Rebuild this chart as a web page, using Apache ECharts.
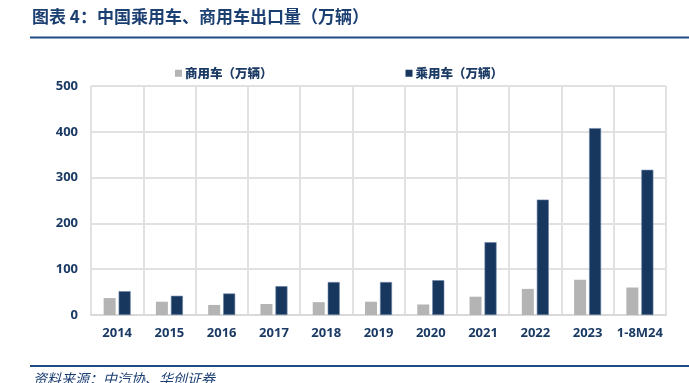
<!DOCTYPE html>
<html><head><meta charset="utf-8">
<script src="https://cdn.jsdelivr.net/npm/echarts@6/dist/echarts.min.js"></script>
<style>html,body{margin:0;padding:0;background:#fff}#c{width:689px;height:383px}</style>
</head><body><div id="c"></div>
<script>
var categories = ['2014','2015','2016','2017','2018','2019','2020','2021','2022','2023','1-8M24'];
var commercial = [37, 29, 22, 24, 28, 29, 23, 40, 57, 77, 60];
var passenger = [52, 42, 47, 63, 72, 72, 76, 159, 252, 408, 317];
var yTicks = {min: 0, max: 500, interval: 100};
var seriesNames = ['商用车（万辆）', '乘用车（万辆）'];
var titleText = '图表 4：中国乘用车、商用车出口量（万辆）';
var sourceText = '资料来源：中汽协、华创证券';

var navy = '#1b3a64';
var chart = echarts.init(document.getElementById('c'));
chart.setOption({
  animation: false,
  textStyle: {fontFamily: 'Noto Sans CJK SC, Noto Sans, sans-serif'},
  legend: {
    top: 62, left: 170, itemGap: 133, itemWidth: 7, itemHeight: 7,
    icon: 'rect',
    itemStyle: {borderWidth: 0},
    textStyle: {color: navy, fontSize: 12.5, fontWeight: 900, padding: [0,0,0,-2]},
    data: seriesNames
  },
  grid: {left: 91, right: 23, top: 86, bottom: 68},
  xAxis: {
    type: 'category', data: categories,
    axisLine: {show: true, lineStyle: {color: '#d9d9d9', width: 2}},
    axisTick: {show: false},
    splitLine: {show: true, lineStyle: {color: '#e1e1e1', width: 2}},
    axisLabel: {color: navy, fontSize: 13, fontWeight: 'bold', margin: 12, interval: 0,
      fontFamily: 'Open Sans, Noto Sans, sans-serif'}
  },
  yAxis: {
    type: 'value', min: yTicks.min, max: yTicks.max, interval: yTicks.interval,
    axisLine: {show: false}, axisTick: {show: false},
    splitLine: {lineStyle: {color: '#e1e1e1', width: 2}},
    axisLabel: {color: navy, fontSize: 13, fontWeight: 'bold', margin: 13,
      fontFamily: 'Open Sans, Noto Sans, sans-serif'}
  },
  series: [
    {name: seriesNames[0], type: 'bar', data: commercial, barWidth: 12, barGap: '25%',
     itemStyle: {color: '#b4b4b4'}},
    {name: seriesNames[1], type: 'bar', data: passenger, barWidth: 12,
     itemStyle: {color: '#17375e', borderColor: '#6c84a6', borderWidth: 0.6}}
  ],
  graphic: [
    {type: 'text', left: 32, top: 8, style: {text: titleText, fill: '#1c3f72',
      font: 'bold 17px "Noto Sans CJK SC", sans-serif'}},
    {type: 'rect', shape: {x: 30, y: 36.5, width: 659, height: 2}, style: {fill: '#1f4a86'}},
    {type: 'rect', shape: {x: 30, y: 365, width: 659, height: 2}, style: {fill: '#1f4a86'}},
    {type: 'text', left: 33, top: 372, style: {text: sourceText, fill: '#1c3f72',
      font: 'italic 14px "Noto Sans CJK SC", sans-serif'}}
  ]
});
</script></body></html>
